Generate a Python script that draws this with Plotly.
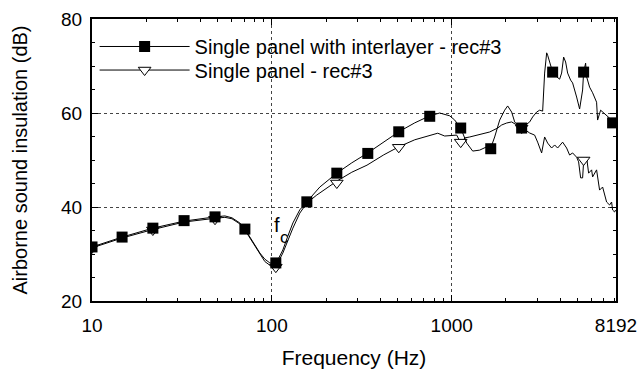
import plotly.graph_objects as go

# ---- data ----
# Single panel with interlayer - rec#3 : curve
s1_f = [10, 14.7, 21.8, 32.5, 48.3, 54.8, 60.0, 66.4, 70.8, 75.5, 80.4, 85.8, 91.4, 97.5,
        105.2, 115.1, 122.7, 130.9, 143.0, 156.5, 184.8, 229.7, 278.3, 341.5, 419.0,
        507.6, 622.9, 754.7, 857.7, 974.7, 1039, 1122, 1212, 1308, 1430, 1565, 1648,
        1733, 1848, 1970, 2047, 2154, 2239, 2387, 2448, 2713, 2818, 2966, 3082, 3203,
        3286, 3372, 3415, 3548, 3640, 3831, 3981, 4084, 4190, 4299, 4411, 4582, 4701,
        4948, 5141, 5343, 5412, 5552, 5623, 5843, 6072, 6390, 6473, 6727, 6902, 7263,
        7547, 7843, 8150]
s1_db = [31.5, 33.6, 35.5, 37.0, 37.9, 38.1, 37.7, 36.6, 35.3, 33.6, 31.9, 30.2, 28.9, 28.1,
         27.9, 30.85, 33.8, 36.6, 39.4, 41.1, 44.25, 47.2, 49.4, 51.5, 53.8,
         56.0, 57.9, 59.4, 60.0, 59.4, 58.5, 56.8, 53.6, 51.9, 52.1, 52.8, 52.55,
         54.9, 58.5, 60.6, 61.5, 60.2, 58.1, 57.0, 56.8, 58.1, 59.15, 60.2, 60.6, 60.4,
         68.5, 72.8, 72.3, 70.2, 68.7, 67.7, 67.2, 68.5, 71.9, 70.85, 68.5, 67.0, 66.4,
         63.4, 60.85, 64.9, 68.7, 70.6, 67.7, 65.5, 64.3, 62.3, 58.5, 60.6, 60.2, 59.4,
         58.9, 57.9, 57.45]
# markers of series 1
s1_mf = [10, 14.7, 21.8, 32.5, 48.3, 70.8, 105.2, 156.5, 229.7, 341.5, 507.6, 754.7,
         1122, 1648, 2448, 3640, 5412, 7843]
s1_mdb = [31.5, 33.6, 35.5, 37.1, 37.9, 35.3, 28.1, 41.1, 47.2, 51.4, 56.0, 59.3,
          56.8, 52.4, 56.8, 68.7, 68.7, 57.9]

# Single panel - rec#3 : curve
s2_f = [10, 14.7, 21.8, 32.5, 48.3, 54.8, 60.0, 66.4, 70.8, 75.5, 80.4, 85.8, 91.4, 97.5,
        105.2, 115.1, 122.7, 130.9, 143.0, 156.5, 177.8, 204.7, 229.7, 278.3, 338, 419,
        507.6, 622.9, 754.7, 836, 914, 1066, 1137, 1181, 1259, 1377, 1626, 1801, 1896,
        2021, 2154, 2297, 2481, 2713, 2891, 3004, 3162, 3286, 3415, 3594, 3735, 3880,
        4137, 4355, 4524, 4701, 4948, 5076, 5208, 5343, 5412, 5623, 5769, 5995, 6072,
        6390, 6640, 6902, 7079, 7263, 7547, 7743, 7843, 8045, 8150]
s2_db = [31.3, 33.4, 35.2, 36.8, 37.6, 37.8, 37.5, 36.4, 35.1, 33.4, 31.6, 29.9, 28.4, 27.6,
         27.3, 30.2, 33.0, 35.5, 38.7, 40.85, 42.55, 44.25, 45.5, 47.4, 48.9, 51.1,
         52.8, 54.3, 55.3, 55.7, 55.1, 55.3, 53.2, 54.7, 54.9, 55.3, 55.96, 56.8, 57.45,
         57.87, 58.1, 57.45, 56.8, 55.74, 55.3, 53.8, 51.5, 54.9, 53.6, 52.55, 53.2, 52.55,
         53.8, 52.55, 51.06, 51.5, 50.6, 49.6, 46.2, 46.2, 49.6, 50.6, 47.2, 47.9, 46.4,
         47.9, 43.6, 44.25, 42.55, 41.06, 40.43, 41.06, 39.36, 38.94, 39.36]
# markers of series 2
s2_mf = [10, 21.8, 48.3, 105.2, 229.7, 507.6, 1122, 2448, 5412]
s2_mdb = [31.3, 35.1, 37.4, 27.2, 45.1, 52.7, 53.8, 56.8, 50.0]

names = ["Single panel with interlayer - rec#3", "Single panel - rec#3"]
x_ticks = [10, 100, 1000, 8192]
x_ticktext = ["10", "100", "1000", "8192"]
x_minor = [20, 30, 40, 50, 60, 70, 80, 90, 200, 300, 400, 500, 600, 700, 800, 900,
           2000, 3000, 4000, 5000, 6000, 7000, 8000]
y_ticks = [20, 40, 60, 80]

FONT = "Liberation Sans, Arial, sans-serif"
fig = go.Figure()

sq = dict(symbol="square", size=11, color="black")
tri = dict(symbol="triangle-down", size=11, color="white", line=dict(color="black", width=1))

# series 2 (triangles)
fig.add_trace(go.Scatter(x=s2_f, y=s2_db, mode="lines", line=dict(color="black", width=1),
                         showlegend=False, hoverinfo="skip"))
fig.add_trace(go.Scatter(x=s2_mf, y=s2_mdb, mode="markers", showlegend=False, marker=tri))
# series 1 (squares)
fig.add_trace(go.Scatter(x=s1_f, y=s1_db, mode="lines", line=dict(color="black", width=1),
                         showlegend=False, hoverinfo="skip"))
fig.add_trace(go.Scatter(x=s1_mf, y=s1_mdb, mode="markers", showlegend=False, marker=sq))

# legend entries (two separate legends to control row spacing)
fig.add_trace(go.Scatter(x=[None], y=[None], mode="lines+markers", name=names[0],
                         line=dict(color="black", width=1), marker=sq, legend="legend"))
fig.add_trace(go.Scatter(x=[None], y=[None], mode="lines+markers", name=names[1],
                         line=dict(color="black", width=1), marker=tri, legend="legend2"))

# f_c label (critical frequency)
fig.add_annotation(x=2.0, y=36.2, xref="x", yref="y", text="f",
                   showarrow=False, xanchor="left", yanchor="middle", xshift=0,
                   font=dict(family=FONT, size=20, color="black"))
fig.add_annotation(x=2.0, y=33.5, xref="x", yref="y", text="c",
                   showarrow=False, xanchor="left", yanchor="middle", xshift=6,
                   font=dict(family=FONT, size=17, color="black"))

axis_common = dict(showline=True, linecolor="black", linewidth=2, mirror="ticks",
                   ticks="inside", ticklen=6, tickcolor="black", tickwidth=1,
                   showgrid=True, gridcolor="#444", griddash="dot", gridwidth=1,
                   zeroline=False, automargin=False,
                   tickfont=dict(family=FONT, size=19, color="black"))

fig.update_xaxes(type="log", range=[1, 3.9134], tickmode="array", tickvals=x_ticks,
                 ticktext=x_ticktext, ticklabelstandoff=6,
                 minor=dict(tickmode="array", tickvals=x_minor, ticks="inside", ticklen=3,
                            tickcolor="black", showgrid=False),
                 title=dict(text="Frequency (Hz)", font=dict(family=FONT, size=21, color="black"),
                            standoff=16),
                 **axis_common)
fig.update_yaxes(range=[20, 80], tickmode="array", tickvals=y_ticks, ticklabelstandoff=4,
                 minor=dict(dtick=5, ticks="inside", ticklen=3, tickcolor="black", showgrid=False),
                 title=dict(text="Airborne sound insulation (dB)",
                            font=dict(family=FONT, size=20, color="black"), standoff=28),
                 **axis_common)

leg_common = dict(x=0.005, xanchor="left", yanchor="middle", bgcolor="rgba(0,0,0,0)",
                  font=dict(family=FONT, size=20, color="black"), itemwidth=90)
fig.update_layout(width=641, height=376, margin=dict(l=92, r=25, t=19, b=75),
                  paper_bgcolor="white", plot_bgcolor="white",
                  font=dict(family=FONT, size=19, color="black"),
                  legend=dict(y=0.9025, **leg_common),
                  legend2=dict(y=0.819, **leg_common))

fig.write_html("out.html", config={"displayModeBar": False},
               post_script="document.body.style.margin='0';document.body.style.padding='0';")
